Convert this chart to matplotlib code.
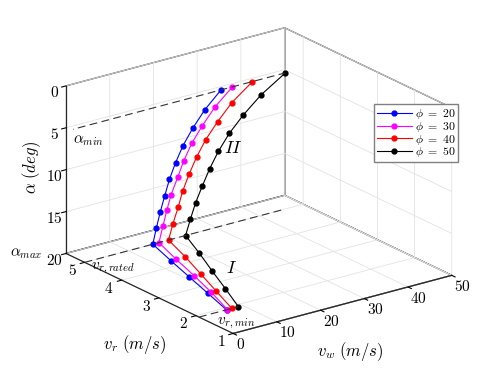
import matplotlib
matplotlib.use('Agg')
import matplotlib.pyplot as plt
import numpy as np

plt.rcParams['font.family'] = 'serif'
plt.rcParams['font.serif'] = ['cmr10']
plt.rcParams['mathtext.fontset'] = 'cm'
plt.rcParams['axes.formatter.use_mathtext'] = True
plt.rcParams['grid.color'] = '#e3e3e3'
plt.rcParams['grid.linewidth'] = 0.6
plt.rcParams['axes.unicode_minus'] = False

# values
phi = [20, 30, 40, 50]
colors = ['blue', 'magenta', 'red', 'black']
# reel-out speed along each curve (region I then region II at rated speed)
vr = [1.92, 2.69, 3.46, 4.23, 5.0, 5.0, 5.0, 5.0, 5.0, 5.0, 5.0, 5.0, 5.0, 5.0]
# angle of attack along each curve
alpha = [20, 20, 20, 20, 20, 18.2, 16.4, 14.65, 12.8, 11.0, 9.2, 7.45, 5.6, 3.8]
# wind speed along each curve, one list per phi
vw_20 = [6.3, 8.6, 10.9, 13.2, 15.6, 16.4, 17.3, 18.3, 19.4, 20.8, 22.5, 24.7, 27.5, 31.1]
vw_30 = [6.5, 9.4, 12.0, 14.4, 17.0, 17.9, 18.8, 19.8, 21.3, 22.7, 24.5, 26.9, 29.8, 33.7]
vw_40 = [7.5, 10.5, 13.5, 16.5, 19.2, 20.2, 21.4, 22.4, 23.9, 25.6, 27.7, 30.4, 33.7, 38.3]
vw_50 = [9.0, 12.6, 16.1, 19.7, 23.1, 24.2, 25.4, 26.9, 28.6, 30.6, 33.1, 36.3, 40.4, 45.8]
vw_all = [vw_20, vw_30, vw_40, vw_50]

alpha_min = 5.4
alpha_max = 20
vr_rated = 5.0
vr_min = 1.92

fig = plt.figure(figsize=(4.98, 3.74), dpi=100)
ax = fig.add_axes([0.01, 0.019, 1.0, 0.97], projection='3d')
ax.set_proj_type('ortho')
ax.view_init(elev=20.9, azim=-126.7)
ax.set_box_aspect((272, 279, 179), zoom=1.15)

for vw, c, p in zip(vw_all, colors, phi):
    ax.plot(vw, vr, alpha, color=c, marker='o', markersize=3.5, linewidth=0.8,
            label=r'$\phi\ =\ %d$' % p)

# limit lines
dash = (0, (7, 4))
ax.plot([0, 50], [5.5, 5.5], [alpha_min, alpha_min], color='0.2', linestyle=dash, linewidth=0.8)
ax.plot([0, vw_50[-1]], [vr_rated, vr_rated], [alpha_max, alpha_max], color='0.2', linestyle=dash, linewidth=0.8)
ax.plot([0, vw_50[0]], [vr_min, vr_min], [alpha_max, alpha_max], color='0.2', linestyle=dash, linewidth=0.8)

ax.text(1.5, 5.5, 6.8, r'$\alpha_{min}$', fontsize=11, ha='left', va='center')
ax.text(-5.9, 5.885, 20, r'$\alpha_{max}$', fontsize=11, ha='center', va='center')
ax.text(2.3, 4.5, 20, r'$v_{r,rated}$', fontsize=11, ha='center', va='center')
ax.text(3.5, 1.33, 20, r'$v_{r,min}$', fontsize=11, ha='center', va='center')
ax.text(34, 5.0, 11.1, r'$II$', fontsize=13, ha='center', va='center')
ax.text(20, 3.4, 20, r'$I$', fontsize=13, ha='center', va='center')

ax.set_xlim(0, 50)
ax.set_ylim(1, 5.5)
ax.set_zlim(20, 0)
ax.set_xticks([0, 10, 20, 30, 40, 50])
ax.set_yticks([1, 2, 3, 4, 5])
ax.set_zticks([0, 5, 10, 15, 20])
ax.tick_params(labelsize=11)
ax.tick_params(axis='x', pad=-6)
ax.tick_params(axis='y', pad=-3)
ax.tick_params(axis='z', pad=-4)
for t in ax.yaxis.get_majorticklabels():
    t.set_ha('right')
    t.set_va('center')
for t in ax.xaxis.get_majorticklabels():
    t.set_ha('left')

ax.set_zlabel(r'$\alpha\ (deg)$', fontsize=12, rotation=90, labelpad=-9)
ax.zaxis.set_rotate_label(False)
fig.text(0.271, 0.078, r'$v_r\ (m/s)$', fontsize=12, ha='center', va='center')
fig.text(0.703, 0.059, r'$v_w\ (m/s)$', fontsize=12, ha='center', va='center')

for axis in [ax.xaxis, ax.yaxis, ax.zaxis]:
    axis.set_pane_color((1, 1, 1, 1))
    axis.pane.set_edgecolor('0.2')
    axis.pane.set_linewidth(0.9)
    axis.line.set_color('0.15')
    axis.line.set_linewidth(0.9)
    axis._axinfo['tick']['inward_factor'] = 0.25
    axis._axinfo['tick']['outward_factor'] = 0.0

ax.legend(loc='upper right', bbox_to_anchor=(0.92, 0.722), bbox_transform=fig.transFigure,
          fontsize=8.5, handlelength=3.0, fancybox=False, framealpha=1, edgecolor='0.5',
          borderaxespad=0, borderpad=0.25, labelspacing=-0.1, handletextpad=0.2)

fig.savefig('out.png', dpi=100)
